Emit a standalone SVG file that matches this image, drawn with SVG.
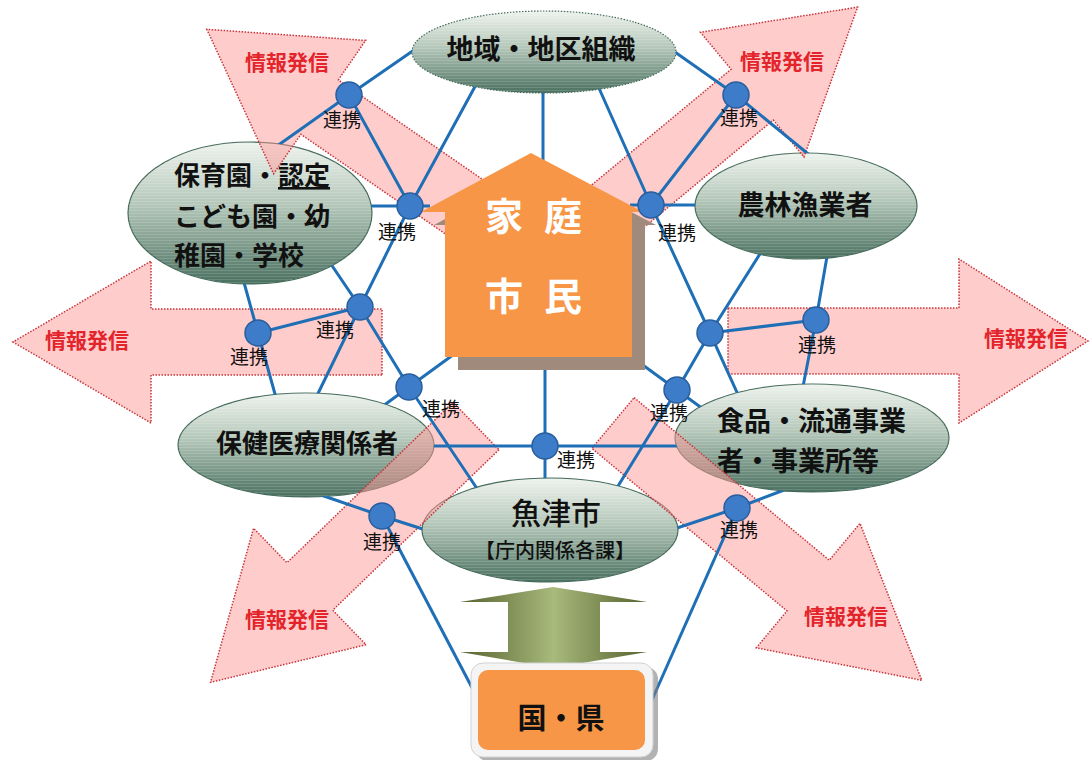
<svg xmlns="http://www.w3.org/2000/svg" width="1090" height="760" viewBox="0 0 1090 760">
<defs>
<linearGradient id="eg" x1="0" y1="0" x2="0" y2="1">
<stop offset="0" stop-color="#eef3ee"/>
<stop offset="0.45" stop-color="#b3c6b8"/>
<stop offset="1" stop-color="#4a7060"/>
</linearGradient>
<pattern id="stripes" width="6" height="3" patternUnits="userSpaceOnUse"><rect width="6" height="1" fill="#ffffff" fill-opacity="0.14"/></pattern>
<linearGradient id="dg" gradientUnits="userSpaceOnUse" x1="460" y1="0" x2="647" y2="0">
<stop offset="0" stop-color="#56622e"/>
<stop offset="0.5" stop-color="#a8ba7c"/>
<stop offset="1" stop-color="#56622e"/>
</linearGradient>
<mask id="lm" maskUnits="userSpaceOnUse" x="0" y="0" width="1090" height="760">
<rect width="1090" height="760" fill="#fff"/>
<ellipse cx="544" cy="52" rx="132" ry="41" fill="#000"/>
<ellipse cx="250" cy="213" rx="122" ry="71" fill="#000"/>
<ellipse cx="806" cy="206" rx="111" ry="53" fill="#000"/>
<ellipse cx="306" cy="445" rx="128" ry="52" fill="#000"/>
<ellipse cx="812" cy="438" rx="137" ry="54" fill="#000"/>
<ellipse cx="550" cy="530" rx="128" ry="52" fill="#000"/>
</mask>
</defs>
<style>
.ell{fill:url(#eg);stroke:#44695a;stroke-width:1.2}
.dotted{stroke-dasharray:1.5 1.5}
.str{fill:url(#stripes)}
.nt{font-family:"Noto Sans CJK JP","Noto Sans",sans-serif;font-weight:700;fill:#111;font-size:26px}
.big{font-size:27px}
.uozu{font-size:30px;font-weight:500}
.sub{font-size:20px;font-weight:500}
.kuni{font-size:29px}
.mid{text-anchor:middle}
.arr{fill:#ff9a9a;fill-opacity:0.5;stroke:#c8343a;stroke-width:1.5;stroke-dasharray:1.5 1.5}
.info{font-family:"Noto Sans CJK JP","Noto Sans",sans-serif;font-weight:700;font-size:21px;fill:#e3242b;text-anchor:middle}
.ln{fill:none;stroke:#1f6fb6;stroke-width:3;stroke-linejoin:round}
.dot{fill:#3d7cc9;stroke:#2a5e9c;stroke-width:1.5}
.lb{font-family:"Noto Sans CJK JP","Noto Sans",sans-serif;font-size:19px;fill:#111;text-anchor:middle}
.hs{font-family:"Noto Sans CJK JP","Noto Sans",sans-serif;font-weight:700;font-size:38px;fill:#fff;text-anchor:middle}
</style>
<rect width="1090" height="760" fill="#fff"/>

<g id="node-chiiki">
<ellipse class="ell dotted" cx="544" cy="52" rx="132" ry="41"/>
<ellipse class="str" cx="544" cy="52" rx="132" ry="41"/>
<text class="nt big mid" x="541" y="59">地域・地区組織</text>
</g>
<g id="node-hoikuen">
<ellipse class="ell" cx="250" cy="213" rx="122" ry="71"/>
<ellipse class="str" cx="250" cy="213" rx="122" ry="71"/>
<text class="nt" x="174" y="185">保育園・<tspan style="text-decoration:underline">認定</tspan></text>
<text class="nt" x="174" y="226">こども園・幼</text>
<text class="nt" x="174" y="265">稚園・学校</text>
</g>
<g id="node-nourin">
<ellipse class="ell" cx="806" cy="206" rx="111" ry="53"/>
<ellipse class="str" cx="806" cy="206" rx="111" ry="53"/>
<text class="nt big mid" x="805" y="215">農林漁業者</text>
</g>
<g id="node-hoken">
<ellipse class="ell" cx="306" cy="445" rx="128" ry="52"/>
<ellipse class="str" cx="306" cy="445" rx="128" ry="52"/>
<text class="nt mid" x="307" y="453">保健医療関係者</text>
</g>
<g id="node-shokuhin">
<ellipse class="ell" cx="812" cy="438" rx="137" ry="54"/>
<ellipse class="str" cx="812" cy="438" rx="137" ry="54"/>
<text class="nt big" x="717" y="431">食品・流通事業</text>
<text class="nt big" x="717" y="471">者・事業所等</text>
</g>
<g id="node-uozu">
<ellipse class="ell" cx="550" cy="530" rx="128" ry="52"/>
<ellipse class="str" cx="550" cy="530" rx="128" ry="52"/>
<text class="nt uozu mid" x="556" y="524">魚津市</text>
<text class="nt sub mid" x="555" y="558">【庁内関係各課】</text>
</g>

<g id="info-arrows">
<polygon class="arr" transform="translate(476,215) rotate(214.6)" points="0,-33 190,-33 190,-81 327,0 190,81 190,33 0,33"/>
<polygon class="arr" transform="translate(606,216) rotate(-39.7)" points="0,-33 190,-33 190,-81 327,0 190,81 190,33 0,33"/>
<polygon class="arr" transform="translate(382,342) rotate(180)" points="0,-33 231,-33 231,-81 369,0 231,81 231,33 0,33"/>
<polygon class="arr" transform="translate(728,341)" points="0,-33 231,-33 231,-82 360,0 231,82 231,33 0,33"/>
<polygon class="arr" transform="translate(476,426) rotate(136)" points="0,-33 231,-33 231,-81 369,0 231,81 231,33 0,33"/>
<polygon class="arr" transform="translate(613,423) rotate(39.8)" points="0,-33 254,-33 254,-81 402,0 254,81 254,33 0,33"/>
<text class="info" x="287" y="70">情報発信</text>
<text class="info" x="782" y="69">情報発信</text>
<text class="info" x="87" y="348">情報発信</text>
<text class="info" x="1026" y="346">情報発信</text>
<text class="info" x="287" y="627">情報発信</text>
<text class="info" x="846" y="624">情報発信</text>
</g>

<g id="connectors" mask="url(#lm)">
<polyline class="ln" points="270,151 349,95 430,39"/>
<polyline class="ln" points="349,95 410,206"/>
<polyline class="ln" points="484,70 410,206 360,307 310,410"/>
<polyline class="ln" points="355,206 430,206"/>
<polyline class="ln" points="543,85 543,170"/>
<polyline class="ln" points="655,38 736,95 818,162"/>
<polyline class="ln" points="736,95 651,205"/>
<polyline class="ln" points="590,68 651,205 710,333 745,410"/>
<polyline class="ln" points="630,205 720,205"/>
<polyline class="ln" points="770,238 710,333 677,390 607,504"/>
<polyline class="ln" points="829,245 816,320 800,402"/>
<polyline class="ln" points="710,333 816,320"/>
<polyline class="ln" points="625,352 677,390 710,414"/>
<polyline class="ln" points="240,268 258,333 280,412"/>
<polyline class="ln" points="258,333 360,307"/>
<polyline class="ln" points="318,245 360,307 409,387 486,502"/>
<polyline class="ln" points="457,352 409,387 372,414"/>
<polyline class="ln" points="545,360 545,495"/>
<polyline class="ln" points="415,446 695,446"/>
<polyline class="ln" points="318,494 382,516 432,532"/>
<polyline class="ln" points="382,516 490,722"/>
<polyline class="ln" points="792,487 737,508 668,531"/>
<polyline class="ln" points="737,508 644,718"/>
</g>

<g id="node-katei">
<polygon transform="translate(13,13)" fill="#a08a7b" points="531,153 643,212 632,212 632,357 445,357 445,212 421,212"/>
<polygon fill="#f79646" points="531,153 643,212 632,212 632,357 445,357 445,212 421,212"/>
<text class="hs" x="504 563" y="230">家庭</text>
<text class="hs" x="504 563" y="310">市民</text>
</g>

<g id="double-arrow">
<polygon fill="url(#dg)" points="553,587 647,602 600,602 600,652 647,652 553,668 460,652 508,652 508,602 460,602"/>
</g>

<g id="node-kuni">
<rect x="476" y="667" width="182" height="94" rx="12" fill="#7f7f7f" fill-opacity="0.6"/>
<rect x="471" y="663" width="182" height="94" rx="12" fill="#f4f4f4" stroke="#d2d2d2" stroke-width="1"/>
<rect x="478" y="670" width="167" height="80" rx="10" fill="#f79646"/>
<text class="nt kuni mid" x="561" y="729">国・県</text>
</g>

<g id="junctions">
<circle class="dot" cx="349" cy="95" r="13"/>
<circle class="dot" cx="410" cy="206" r="13"/>
<circle class="dot" cx="736" cy="95" r="13"/>
<circle class="dot" cx="651" cy="205" r="13"/>
<circle class="dot" cx="258" cy="333" r="13"/>
<circle class="dot" cx="360" cy="307" r="13"/>
<circle class="dot" cx="409" cy="387" r="13"/>
<circle class="dot" cx="710" cy="333" r="13"/>
<circle class="dot" cx="816" cy="320" r="13"/>
<circle class="dot" cx="677" cy="390" r="13"/>
<circle class="dot" cx="545" cy="446" r="13"/>
<circle class="dot" cx="382" cy="516" r="13"/>
<circle class="dot" cx="737" cy="508" r="13"/>
<text class="lb" x="342" y="127">連携</text>
<text class="lb" x="397" y="239">連携</text>
<text class="lb" x="739" y="125">連携</text>
<text class="lb" x="677" y="240">連携</text>
<text class="lb" x="249" y="364">連携</text>
<text class="lb" x="335" y="337">連携</text>
<text class="lb" x="817" y="352">連携</text>
<text class="lb" x="441" y="416">連携</text>
<text class="lb" x="669" y="420">連携</text>
<text class="lb" x="576" y="467">連携</text>
<text class="lb" x="382" y="549">連携</text>
<text class="lb" x="739" y="537">連携</text>
</g>
</svg>
